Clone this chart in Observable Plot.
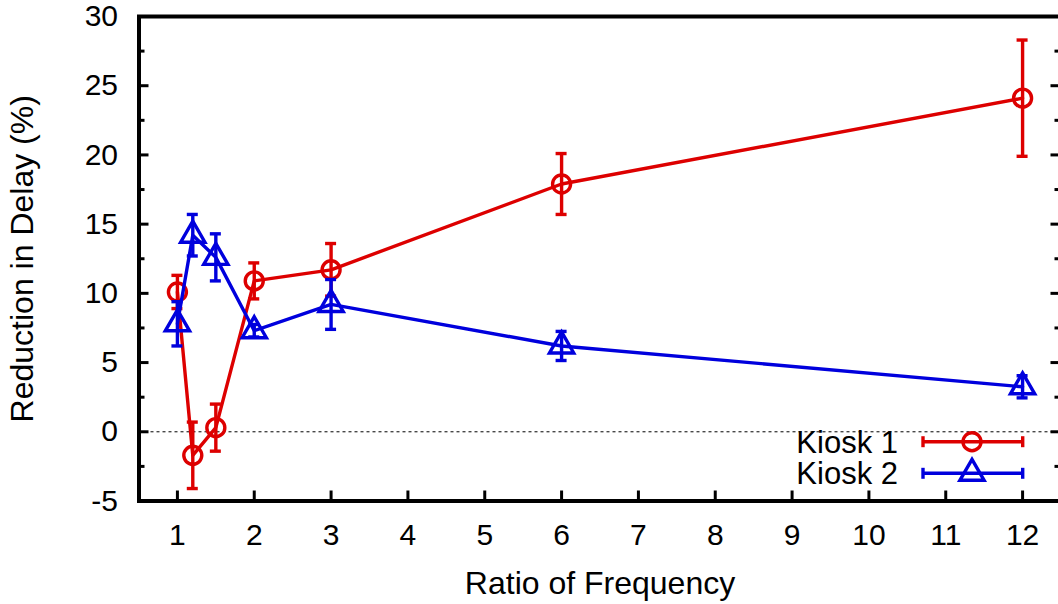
<!DOCTYPE html>
<html>
<head>
<meta charset="utf-8">
<script src="https://cdn.jsdelivr.net/npm/d3@7"></script>
<script src="https://cdn.jsdelivr.net/npm/@observablehq/plot@0.6"></script>
<style>
html, body { margin: 0; padding: 0; background: #fff; overflow: hidden; }
#wrap { position: relative; width: 1058px; height: 604px; overflow: hidden; }
#legend { position: absolute; left: 0; top: 0; pointer-events: none; }
</style>
</head>
<body>
<div id="wrap"></div>
<script>
// ---- data ----
const ratios = [1, 1.2, 1.5, 2, 3, 6, 12];
const kiosk1 = [10.1, -1.7, 0.3, 10.9, 11.7, 17.9, 24.1];
const kiosk1Err = [1.2, 2.4, 1.7, 1.3, 1.9, 2.2, 4.2];
const kiosk2 = [7.8, 14.2, 12.6, 7.3, 9.2, 6.2, 3.25];
const kiosk2Err = [1.6, 1.5, 1.7, 0.45, 1.8, 1.05, 0.8];
const seriesNames = ["Kiosk 1", "Kiosk 2"];
const seriesColors = ["#dd0000", "#0000dd"];
const seriesSymbols = ["circle", "triangle"];
const xTicks = [1, 2, 3, 4, 5, 6, 7, 8, 9, 10, 11, 12];
const yTicks = [-5, 0, 5, 10, 15, 20, 25, 30];
const yMinorTicks = [-2.5, 2.5, 7.5, 12.5, 17.5, 22.5, 27.5];
const xLabel = "Ratio of Frequency";
const yLabel = "Reduction in Delay (%)";

// ---- build tables ----
function rowsFor(vals, errs) {
  return ratios.map((r, i) => ({ratio: r, value: vals[i], lo: vals[i] - errs[i], hi: vals[i] + errs[i]}));
}
const series = [rowsFor(kiosk1, kiosk1Err), rowsFor(kiosk2, kiosk2Err)];

// ---- layout ----
const W = 1058, H = 604;
const mL = 138.5, mR = -2.5, mT = 16, mB = 103.5;
const plotW = W - mL - mR, plotH = H - mT - mB;
const FONT = "'Liberation Sans', Arial, Helvetica, sans-serif";
const FS = 30;
const LFS = 32;
const SW = 3.4;

const marks = [];
marks.push(Plot.ruleY([0], {stroke: "black", strokeWidth: 1, strokeDasharray: "3,3"}));
series.forEach((rows, k) => {
  const c = seriesColors[k];
  marks.push(Plot.line(rows, {x: "ratio", y: "value", stroke: c, strokeWidth: SW}));
  marks.push(Plot.ruleX(rows, {x: "ratio", y1: "lo", y2: "hi", stroke: c, strokeWidth: SW}));
  marks.push(Plot.ruleY(rows, {y: "hi", x1: "ratio", x2: "ratio", insetLeft: -5.5, insetRight: -5.5, stroke: c, strokeWidth: SW}));
  marks.push(Plot.ruleY(rows, {y: "lo", x1: "ratio", x2: "ratio", insetLeft: -5.5, insetRight: -5.5, stroke: c, strokeWidth: SW}));
  marks.push(Plot.dot(rows, {x: "ratio", y: "value", symbol: () => seriesSymbols[k], r: 9, stroke: c, strokeWidth: SW, fill: "none"}));
});
// inward ticks
marks.push(Plot.tickY(yTicks, {y: d => d, insetRight: plotW - 10, stroke: "black", strokeWidth: 3}));
marks.push(Plot.tickY(yTicks, {y: d => d, insetLeft: plotW - 10, stroke: "black", strokeWidth: 3}));
marks.push(Plot.tickY(yMinorTicks, {y: d => d, insetRight: plotW - 6, stroke: "black", strokeWidth: 3}));
marks.push(Plot.tickY(yMinorTicks, {y: d => d, insetLeft: plotW - 6, stroke: "black", strokeWidth: 3}));
marks.push(Plot.tickX(xTicks, {x: d => d, insetTop: plotH - 10, stroke: "black", strokeWidth: 3}));
marks.push(Plot.frame({stroke: "black", strokeWidth: 4}));
// axis titles
marks.push(Plot.text([xLabel], {frameAnchor: "bottom", dy: 83, lineAnchor: "middle", textAnchor: "middle", fontSize: LFS}));
marks.push(Plot.text([yLabel], {frameAnchor: "left", dx: 22 - mL, rotate: -90, lineAnchor: "middle", textAnchor: "middle", fontSize: LFS}));

const chart = Plot.plot({
  width: W, height: H,
  marginLeft: mL, marginRight: mR, marginTop: mT, marginBottom: mB,
  style: {fontFamily: FONT, fontSize: FS + "px", background: "#fff", color: "black"},
  x: {domain: [0.5, 12.5], ticks: xTicks, tickSize: 0, tickPadding: 23, label: null, tickFormat: d => String(d)},
  y: {domain: [-5, 30], ticks: yTicks, tickSize: 0, tickPadding: 21, label: null, tickFormat: d => String(d)},
  marks
});
const wrap = document.getElementById("wrap");
wrap.appendChild(chart);

// ---- legend overlay ----
const leg = d3.select(wrap).append("svg").attr("id", "legend")
  .attr("width", W).attr("height", H);
const legY = [441.7, 473.3];
seriesNames.forEach((name, k) => {
  const c = seriesColors[k];
  const g = leg.append("g").attr("transform", `translate(0,${legY[k]})`);
  g.append("text").attr("x", 898).attr("y", 0).attr("dy", "0.36em")
    .attr("text-anchor", "end").attr("font-family", FONT).attr("font-size", 31).attr("fill", "black").text(name);
  g.append("line").attr("x1", 923).attr("x2", 1022.7).attr("y1", 0).attr("y2", 0).attr("stroke", c).attr("stroke-width", SW);
  g.append("line").attr("x1", 923).attr("x2", 923).attr("y1", -5.5).attr("y2", 5.5).attr("stroke", c).attr("stroke-width", SW);
  g.append("line").attr("x1", 1022.7).attr("x2", 1022.7).attr("y1", -5.5).attr("y2", 5.5).attr("stroke", c).attr("stroke-width", SW);
  const sym = seriesSymbols[k] === "circle" ? d3.symbolCircle : d3.symbolTriangle;
  g.append("path").attr("transform", "translate(972,0)")
    .attr("d", d3.symbol(sym, 81 * Math.PI)())
    .attr("fill", "none").attr("stroke", c).attr("stroke-width", SW);
});
</script>
</body>
</html>
